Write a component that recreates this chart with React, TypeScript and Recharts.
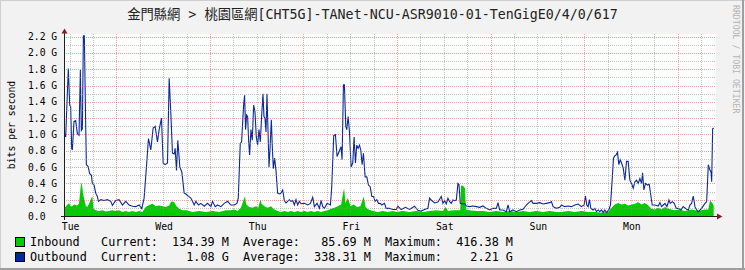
import { ComposedChart, Area, Line, XAxis, YAxis } from "recharts";

// RRDtool-style weekly traffic graph. x = hours since Tuesday 00:00, y = Gbit/s

const TITLE = "金門縣網 > 桃園區網[CHT5G]-TANet-NCU-ASR9010-01-TenGigE0/4/0/617";

// day labels sit at noon, red grid at midnight, grey grid every 6 h
const DAY_TICKS = [12, 36, 60, 84, 108, 132, 156];
const DAY_LABELS = ["Tue", "Wed", "Thu", "Fri", "Sat", "Sun", "Mon"];
const MAJOR_X = [24, 48, 72, 96, 120, 144, 168];
const X_GRID = [12, 18, 24, 30, 36, 42, 48, 54, 60, 66, 72, 78, 84, 90, 96, 102, 108, 114, 120, 126, 132, 138, 144, 150, 156, 162, 168, 174];

const Y_TICKS = [0, 0.2, 0.4, 0.6, 0.8, 1.0, 1.2, 1.4, 1.6, 1.8, 2.0, 2.2];
const Y_LABELS = ["0.0", "0.2 G", "0.4 G", "0.6 G", "0.8 G", "1.0 G", "1.2 G", "1.4 G", "1.6 G", "1.8 G", "2.0 G", "2.2 G"];
const Y_GRID = [0.1, 0.2, 0.3, 0.4, 0.5, 0.6, 0.7, 0.8, 0.9, 1.0, 1.1, 1.2, 1.3, 1.4, 1.5, 1.6, 1.7, 1.8, 1.9, 2.0, 2.1, 2.2];

// [hour, Gbps]
const INBOUND: [number, number][] = [
  [10.56, 0.12], [10.99, 0.11], [11.42, 0.14], [11.84, 0.155], [12.27, 0.12], [12.7, 0.12], [13.13, 0.14],
  [13.56, 0.135], [13.99, 0.13], [14.41, 0.15], [14.84, 0.36], [15.1, 0.41], [15.44, 0.28], [15.78, 0.2],
  [16.13, 0.13], [16.55, 0.11], [16.98, 0.15], [17.58, 0.22], [17.84, 0.24], [18.1, 0.09], [18.7, 0.07],
  [19.55, 0.06], [20.41, 0.07], [21.27, 0.055], [22.12, 0.06], [22.98, 0.07], [23.83, 0.06], [24.69, 0.07],
  [25.55, 0.05], [26.4, 0.06], [27.26, 0.05], [28.12, 0.06], [28.97, 0.05], [29.83, 0.06], [30.69, 0.05],
  [31.54, 0.11], [32.4, 0.135], [33.26, 0.15], [34.11, 0.12], [34.97, 0.13], [35.83, 0.12], [36.66, 0.11],
  [37.54, 0.13], [38.14, 0.18], [38.82, 0.17], [39.42, 0.12], [40.11, 0.09], [40.96, 0.07], [41.82, 0.07],
  [42.68, 0.06], [43.53, 0.05], [45.25, 0.06], [46.96, 0.05], [48.67, 0.06], [50.39, 0.05], [52.1, 0.07],
  [53.38, 0.07], [54.24, 0.08], [55.1, 0.06], [55.95, 0.1], [56.64, 0.2], [56.98, 0.24], [57.32, 0.14],
  [58.09, 0.11], [58.95, 0.1], [59.81, 0.12], [60.41, 0.1], [60.92, 0.2], [61.26, 0.15], [61.95, 0.12],
  [62.8, 0.1], [63.66, 0.12], [64.52, 0.08], [65.37, 0.06], [66.23, 0.05], [67.09, 0.06], [67.94, 0.05],
  [68.8, 0.06], [69.66, 0.05], [70.51, 0.06], [71.37, 0.05], [72.23, 0.06], [73.08, 0.05], [73.94, 0.06],
  [74.79, 0.05], [75.65, 0.06], [76.51, 0.05], [77.36, 0.06], [78.22, 0.07], [79.08, 0.09], [79.93, 0.1],
  [80.79, 0.12], [81.65, 0.14], [82.16, 0.28], [82.42, 0.34], [82.76, 0.16], [83.36, 0.22], [84.04, 0.12],
  [84.9, 0.14], [85.76, 0.11], [86.61, 0.12], [87.47, 0.24], [87.9, 0.11], [88.67, 0.08], [89.78, 0.06],
  [91.07, 0.05], [92.35, 0.06], [93.63, 0.05], [94.92, 0.06], [95.78, 0.05], [97.5, 0.06], [99.21, 0.05],
  [100.92, 0.06], [102.63, 0.05], [104.35, 0.06], [106.06, 0.07], [107.77, 0.06], [108.46, 0.11], [109.06, 0.06],
  [110.34, 0.07], [111.63, 0.07], [112.23, 0.07], [112.4, 0.37], [112.91, 0.37], [113.43, 0.34], [113.68, 0.08],
  [114.63, 0.07], [116.34, 0.06], [118.05, 0.06], [119.76, 0.05], [121.48, 0.06], [123.19, 0.05], [124.9, 0.06],
  [126.61, 0.05], [128.33, 0.06], [130.04, 0.05], [131.75, 0.06], [133.47, 0.05], [135.18, 0.06], [136.89, 0.05],
  [138.17, 0.05], [139.89, 0.06], [141.6, 0.05], [143.31, 0.06], [145.02, 0.05], [146.74, 0.05], [148.45, 0.04],
  [150.16, 0.05], [151.02, 0.1], [151.88, 0.14], [152.73, 0.16], [153.59, 0.14], [154.45, 0.15], [155.3, 0.13],
  [156.16, 0.14], [157.02, 0.15], [157.87, 0.17], [158.73, 0.14], [159.58, 0.16], [160.44, 0.13], [161.3, 0.09],
  [162.15, 0.08], [163.01, 0.1], [163.87, 0.08], [164.72, 0.11], [165.58, 0.09], [166.43, 0.08], [167.29, 0.07],
  [168.15, 0.08], [169.0, 0.07], [169.86, 0.06], [170.72, 0.07], [171.57, 0.08], [172.43, 0.07], [173.29, 0.06],
  [174.14, 0.07], [175.0, 0.08], [175.86, 0.08], [176.29, 0.19], [176.72, 0.17], [177.23, 0.13],
];

const OUTBOUND: [number, number][] = [
  [10.56, 1.03], [10.99, 0.97], [11.67, 1.81], [12.02, 1.36], [12.27, 1.34], [12.53, 0.83], [12.7, 0.81],
  [13.13, 1.16], [13.56, 1.17], [13.99, 1.01], [14.41, 0.99], [14.76, 1.79], [15.01, 1.05], [15.27, 1.07],
  [15.53, 2.21], [15.78, 2.21], [16.13, 1.1], [16.3, 0.63], [16.73, 0.61], [17.15, 0.52], [17.58, 0.5],
  [17.84, 0.4], [18.27, 0.38], [18.7, 0.28], [19.12, 0.24], [19.38, 0.18], [19.98, 0.2], [20.84, 0.19],
  [21.69, 0.2], [22.55, 0.18], [22.98, 0.13], [23.83, 0.19], [24.69, 0.2], [25.55, 0.135], [26.4, 0.18],
  [27.26, 0.135], [28.12, 0.12], [28.97, 0.115], [29.83, 0.135], [30.52, 0.09], [31.11, 0.22], [31.71, 0.6],
  [32.23, 0.95], [32.83, 0.81], [33.43, 1.08], [33.94, 1.1], [34.54, 0.91], [34.97, 1.06], [35.57, 1.2],
  [36.0, 0.65], [36.51, 0.63], [37.11, 0.65], [37.54, 1.69], [37.97, 1.26], [38.39, 0.77], [38.82, 0.76],
  [39.08, 0.83], [39.42, 0.56], [39.76, 0.93], [40.28, 0.6], [40.79, 0.54], [41.39, 0.28], [41.82, 0.27],
  [42.51, 0.24], [43.11, 0.22], [43.53, 0.18], [43.96, 0.135], [44.39, 0.18], [45.08, 0.135], [45.67, 0.155],
  [46.53, 0.12], [47.39, 0.155], [48.24, 0.115], [48.67, 0.18], [49.36, 0.115], [49.96, 0.135], [50.81, 0.115],
  [51.67, 0.155], [52.53, 0.18], [53.38, 0.135], [54.24, 0.135], [54.92, 0.155], [55.27, 0.22], [55.78, 0.89],
  [56.12, 0.91], [56.64, 1.36], [56.89, 1.48], [57.15, 1.06], [57.41, 1.24], [57.67, 1.22], [57.92, 0.93],
  [58.18, 0.75], [58.52, 1.06], [58.86, 0.93], [59.21, 1.36], [59.55, 1.28], [59.89, 0.97], [60.23, 0.87],
  [60.58, 1.06], [60.92, 0.91], [61.26, 1.22], [61.61, 1.5], [61.86, 1.22], [62.12, 1.2], [62.38, 1.03],
  [62.63, 1.5], [62.89, 1.06], [63.15, 0.6], [63.4, 0.81], [63.75, 1.18], [64.0, 0.85], [64.26, 0.58],
  [64.6, 0.71], [64.94, 0.56], [65.37, 0.28], [65.8, 0.27], [66.23, 0.28], [66.66, 0.32], [67.09, 0.19],
  [67.51, 0.16], [67.94, 0.18], [68.37, 0.2], [68.8, 0.18], [69.23, 0.19], [69.66, 0.135], [70.08, 0.2],
  [70.51, 0.135], [70.94, 0.18], [71.37, 0.15], [72.23, 0.155], [73.08, 0.135], [73.77, 0.155], [74.37, 0.23],
  [74.79, 0.115], [75.48, 0.155], [76.08, 0.094], [76.51, 0.19], [76.94, 0.115], [77.36, 0.094], [78.05, 0.155],
  [78.91, 0.135], [79.25, 0.36], [79.76, 0.99], [80.19, 1.0], [80.62, 0.73], [80.96, 0.77], [81.3, 0.81],
  [81.65, 0.85], [81.9, 0.69], [82.25, 1.61], [82.5, 1.61], [82.85, 1.1], [83.1, 1.06], [83.45, 1.22],
  [83.79, 1.04], [84.21, 0.6], [84.64, 0.65], [84.99, 0.97], [85.33, 0.65], [85.67, 0.87], [86.01, 0.83],
  [86.36, 0.87], [86.7, 0.81], [87.04, 0.63], [87.38, 0.77], [87.81, 0.48], [88.24, 0.48], [88.67, 0.38],
  [89.1, 0.36], [89.53, 0.24], [89.95, 0.24], [90.38, 0.18], [90.81, 0.2], [91.24, 0.155], [91.67, 0.155],
  [92.09, 0.135], [92.78, 0.155], [93.21, 0.094], [94.06, 0.094], [94.92, 0.08], [95.78, 0.08], [96.21, 0.12],
  [97.07, 0.08], [98.18, 0.106], [99.21, 0.08], [100.49, 0.12], [101.35, 0.07], [102.21, 0.06], [103.06, 0.08],
  [103.92, 0.094], [104.35, 0.22], [104.78, 0.196], [105.63, 0.16], [106.49, 0.17], [107.35, 0.24], [107.77, 0.155],
  [108.2, 0.19], [108.63, 0.147], [109.06, 0.217], [109.49, 0.176], [109.91, 0.155], [110.34, 0.196], [110.77, 0.188],
  [111.2, 0.196], [111.63, 0.4], [111.88, 0.39], [112.23, 0.155], [112.74, 0.147], [113.34, 0.155], [113.77, 0.123],
  [114.63, 0.115], [115.48, 0.123], [116.34, 0.115], [117.19, 0.106], [118.05, 0.123], [118.91, 0.094], [119.76, 0.074],
  [120.62, 0.094], [121.48, 0.094], [121.9, 0.164], [122.33, 0.074], [123.19, 0.074], [124.05, 0.053], [124.47, 0.135],
  [124.9, 0.053], [125.76, 0.074], [126.61, 0.053], [127.47, 0.074], [128.33, 0.082], [129.18, 0.135], [129.61, 0.155],
  [130.47, 0.188], [130.9, 0.155], [131.75, 0.155], [132.61, 0.164], [133.47, 0.147], [134.32, 0.155], [135.18, 0.164],
  [135.61, 0.176], [136.04, 0.115], [136.89, 0.094], [137.74, 0.106], [138.17, 0.135], [139.03, 0.115], [139.89, 0.123],
  [140.74, 0.115], [141.6, 0.135], [142.46, 0.147], [143.31, 0.115], [144.0, 0.135], [144.34, 0.245], [144.68, 0.135],
  [145.02, 0.115], [145.37, 0.2], [145.71, 0.094], [146.31, 0.074], [146.74, 0.094], [147.17, 0.053], [147.59, 0.074],
  [148.02, 0.053], [148.45, 0.074], [148.88, 0.041], [149.31, 0.074], [149.73, 0.041], [150.33, 0.074], [150.76, 0.135],
  [151.19, 0.44], [151.53, 0.71], [151.88, 0.74], [152.22, 0.75], [152.56, 0.78], [152.9, 0.63], [153.25, 0.69],
  [153.59, 0.65], [154.02, 0.59], [154.45, 0.44], [154.87, 0.67], [155.3, 0.67], [155.73, 0.44], [156.16, 0.4],
  [156.59, 0.34], [157.02, 0.42], [157.44, 0.44], [157.87, 0.4], [158.3, 0.46], [158.73, 0.4], [158.99, 0.53],
  [159.33, 0.32], [159.76, 0.4], [160.27, 0.38], [160.7, 0.39], [161.13, 0.245], [161.47, 0.135], [162.15, 0.135],
  [163.01, 0.123], [163.44, 0.164], [163.87, 0.115], [164.29, 0.135], [164.72, 0.155], [165.24, 0.115], [165.75, 0.196],
  [166.09, 0.155], [166.61, 0.176], [167.12, 0.155], [167.63, 0.094], [168.15, 0.094], [168.83, 0.074], [169.43, 0.115],
  [170.29, 0.082], [170.72, 0.074], [171.15, 0.135], [171.57, 0.155], [172.0, 0.245], [172.43, 0.115], [172.86, 0.074],
  [173.29, 0.053], [174.14, 0.094], [175.0, 0.155], [175.43, 0.176], [175.86, 0.63], [176.29, 0.56], [176.55, 0.54],
  [176.72, 0.42], [176.97, 1.07], [177.23, 1.08],
];

const LEGEND_ROWS = [
  { color: "#00CC00", text: "Inbound   Current:  134.39 M  Average:   85.69 M  Maximum:  416.38 M" },
  { color: "#002A97", text: "Outbound  Current:    1.08 G  Average:  338.31 M  Maximum:    2.21 G" },
];

const MONO = "'DejaVu Sans Mono', 'Noto Sans CJK TC', monospace";
const GRID_MINOR = "rgba(140,140,140,0.5)";
const GRID_MAJOR = "rgba(214,60,60,0.48)";

// plot rectangle (px)
const PLOT_L = 64;
const PLOT_T = 34;
const PLOT_R = 716;
const PLOT_B = 216;

const inData = INBOUND.map(([h, v]) => ({ h, v }));
const outData = OUTBOUND.map(([h, v]) => ({ h, v }));

const isClose = (a: number, b: number) => Math.abs(a - b) < 1e-6;

// x ticks: draw the time grid line; label the noon ticks with the weekday
function TimeTick(props: any) {
  const { x, payload } = props;
  const v = payload.value as number;
  const px = Math.round(x) + 0.5;
  const major = MAJOR_X.includes(v);
  const dayIdx = DAY_TICKS.indexOf(v);
  return (
    <g>
      <line x1={px} y1={PLOT_T} x2={px} y2={PLOT_B} stroke={major ? GRID_MAJOR : GRID_MINOR} strokeDasharray="1 1" />
      {dayIdx >= 0 && (
        <text x={x + 1} y={226} textAnchor="middle" dominantBaseline="central" fontFamily={MONO} fontSize={9.8} fill="#000">
          {DAY_LABELS[dayIdx]}
        </text>
      )}
    </g>
  );
}

// y ticks: grid line every 0.1 G, label every 0.2 G
function RateTick(props: any) {
  const { y, payload } = props;
  const v = payload.value as number;
  const py = Math.round(y) + 0.5;
  const labelIdx = Y_TICKS.findIndex((t) => isClose(t, v));
  return (
    <g>
      <line x1={PLOT_L} y1={py} x2={PLOT_R} y2={py} stroke={labelIdx >= 0 ? GRID_MAJOR : GRID_MINOR} strokeDasharray="1 1" />
      {labelIdx >= 0 && (
        <text x={28} y={y} textAnchor="start" dominantBaseline="central" fontFamily={MONO} fontSize={9.7} fill="#000">
          {Y_LABELS[labelIdx]}
        </text>
      )}
    </g>
  );
}

export default function App() {
  return (
    <div style={{ position: "absolute", left: 0, top: 0, width: 745, height: 270, background: "#f2f2f2", overflow: "hidden" }}>
      {/* frame shading */}
      <div style={{ position: "absolute", left: 0, top: 0, width: 745, height: 1, background: "#cfcfcf" }} />
      <div style={{ position: "absolute", left: 0, top: 0, width: 1, height: 270, background: "#cfcfcf" }} />
      <div style={{ position: "absolute", left: 742, top: 0, width: 2, height: 270, background: "#9e9e9e" }} />
      <div style={{ position: "absolute", left: 0, top: 268, width: 745, height: 2, background: "#9e9e9e" }} />

      {/* plot canvas */}
      <div style={{ position: "absolute", left: PLOT_L, top: PLOT_T, width: PLOT_R - PLOT_L, height: PLOT_B - PLOT_T, background: "#ffffff" }} />

      <div
        style={{
          position: "absolute", left: 0, top: 6, width: 745, textAlign: "center",
          fontFamily: MONO, fontSize: 13.3, color: "#222", lineHeight: "18px", whiteSpace: "pre",
        }}
      >
        {TITLE}
      </div>

      <div style={{ position: "absolute", left: 0, top: 0 }}>
        <ComposedChart width={745} height={270} margin={{ top: PLOT_T, right: 745 - PLOT_R, bottom: 270 - PLOT_B - 1, left: PLOT_L - 1 }}>
          <XAxis
            type="number"
            dataKey="h"
            domain={[10.56, 177.83]}
            allowDataOverflow
            ticks={X_GRID}
            interval={0}
            height={1}
            axisLine={false}
            tickLine={false}
            tick={<TimeTick />}
          />
          <YAxis
            type="number"
            domain={[0, 2.233]}
            allowDataOverflow
            ticks={Y_GRID}
            interval={0}
            width={1}
            axisLine={false}
            tickLine={false}
            tick={<RateTick />}
          />
          <Area
            data={inData}
            dataKey="v"
            type="linear"
            fill="#00CC00"
            fillOpacity={1}
            stroke="none"
            isAnimationActive={false}
          />
          <Line
            data={outData}
            dataKey="v"
            type="linear"
            stroke="#0a2a9a"
            strokeWidth={1.1}
            dot={false}
            isAnimationActive={false}
          />
        </ComposedChart>
      </div>

      {/* axes, arrows, watermark */}
      <svg width={745} height={270} style={{ position: "absolute", left: 0, top: 0, pointerEvents: "none" }}>
        <text x={28} y={PLOT_B} dominantBaseline="central" fontFamily={MONO} fontSize={9.7} fill="#000">
          {Y_LABELS[0]}
        </text>
        <line x1={61} y1={216.5} x2={718} y2={216.5} stroke="#1f1f1f" strokeWidth={1} />
        <line x1={64.5} y1={220} x2={64.5} y2={31} stroke="#1f1f1f" strokeWidth={1} />
        <polygon points="717,213.5 722.5,216.5 717,219.5" fill="#801f1f" />
        <polygon points="61.5,33.5 64.5,28.5 67.5,33.5" fill="#801f1f" />
        <text
          x={11}
          y={125}
          transform="rotate(-90 11 125)"
          textAnchor="middle"
          dominantBaseline="central"
          fontFamily={MONO}
          fontSize={9.8}
          fill="#000"
        >
          bits per second
        </text>
        <text
          x={735.5}
          y={5}
          transform="rotate(90 735.5 5)"
          textAnchor="start"
          dominantBaseline="central"
          fontFamily={MONO}
          fontSize={8.2}
          fill="#b4b4b4"
        >
          RRDTOOL / TOBI OETIKER
        </text>
      </svg>

      {LEGEND_ROWS.map((row, i) => (
        <div key={row.text} style={{ position: "absolute", left: 15, top: 236 + i * 14.5, height: 12, display: "flex", alignItems: "center" }}>
          <div style={{ width: 8, height: 8, background: row.color, border: "1px solid #000" }} />
          <div
            style={{
              marginLeft: 5, fontFamily: MONO, fontSize: 11.8, lineHeight: "12px",
              whiteSpace: "pre", color: "#000",
            }}
          >
            {row.text}
          </div>
        </div>
      ))}
    </div>
  );
}
